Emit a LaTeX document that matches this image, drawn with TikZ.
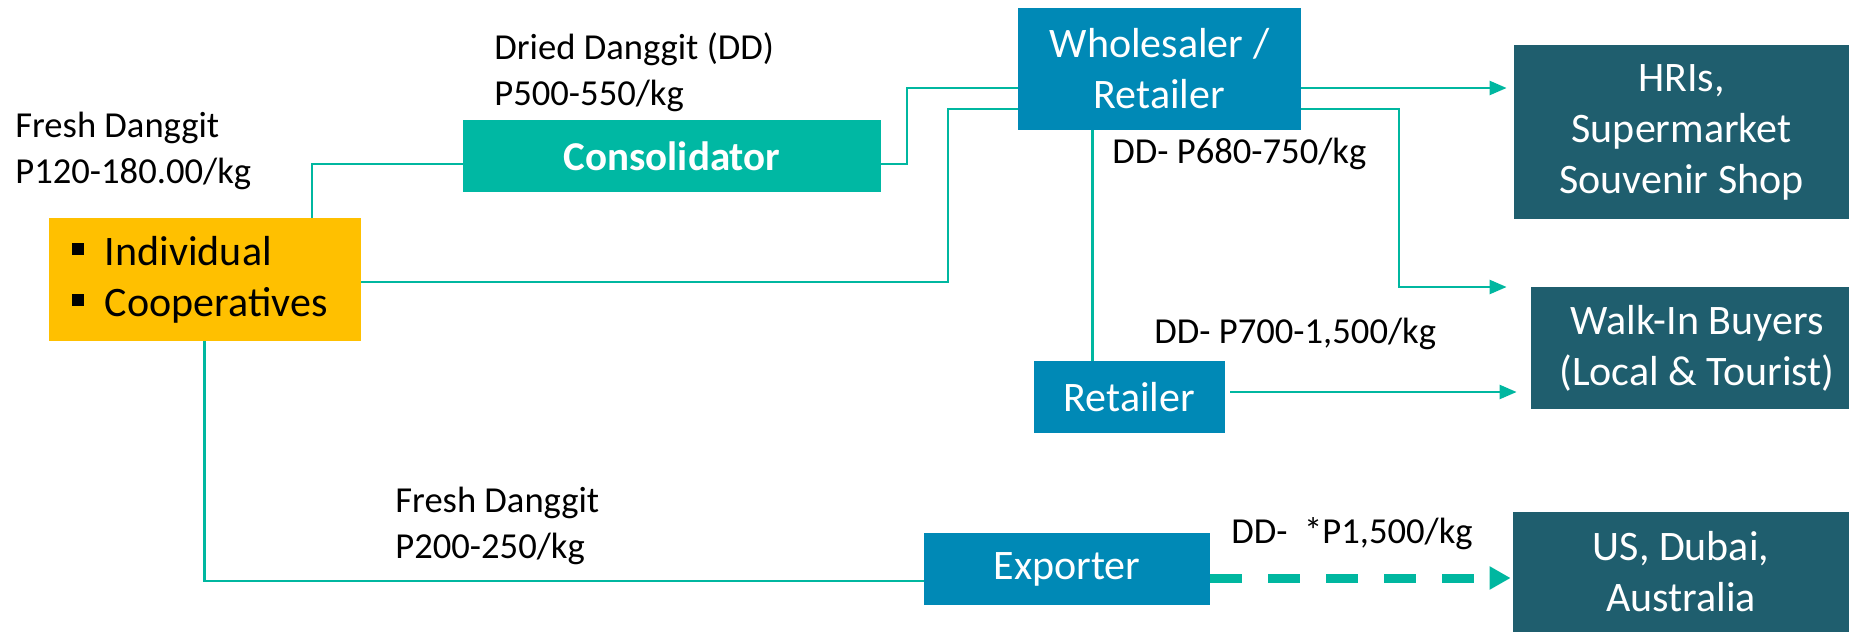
\documentclass[tikz,border=0pt]{standalone}
\usepackage{fontspec}
\setmainfont{Carlito}
\usetikzlibrary{arrows.meta}
\definecolor{linkc}{RGB}{0,183,160}
\definecolor{consc}{RGB}{0,184,163}
\definecolor{bluec}{RGB}{0,137,182}
\definecolor{darkc}{RGB}{31,94,110}
\definecolor{amberc}{RGB}{255,192,0}
\begin{document}
\begin{tikzpicture}[x=0.5pt,y=-0.5pt,
  box/.style={draw=none,inner sep=0pt,align=center,text=white,font=\fontsize{21}{25.5}\selectfont},
  lbl/.style={inner sep=0pt,anchor=base west,align=left,font=\fontsize{18.3}{23}\selectfont},
  link/.style={draw=linkc,line width=1.2pt},
  arr/.style={link,-{Triangle[length=8.5pt,width=7pt]}},
  dasharr/.style={draw=linkc,line width=4.5pt,dash pattern=on 16pt off 13pt,-{Triangle[length=10.5pt,width=11pt]}},
]
\useasboundingbox (0,0) rectangle (1849,632);
% boxes
\node[box,fill=amberc,text=black,minimum height=61.5pt,align=left,text width=133pt,inner xsep=11.5pt] (ind) at (205,279.5)
  {\raisebox{5pt}{\rule{6pt}{6pt}}\hspace{10.5pt}Individual\\\raisebox{5pt}{\rule{6pt}{6pt}}\hspace{10.5pt}Cooperatives};
\node[box,fill=consc,minimum width=209pt,minimum height=36pt,font=\bfseries\fontsize{20.5}{24}\selectfont] (cons) at (672,156) {Consolidator};
\node[box,fill=bluec,minimum width=141.5pt,minimum height=61pt] (whole) at (1159.5,69) {Wholesaler /\\Retailer};
\node[box,fill=darkc,minimum width=167.5pt,minimum height=87pt] (hri) at (1681.5,132) {HRIs,\\Supermarket\\Souvenir Shop};
\node[box,fill=darkc,minimum width=166pt,minimum height=61pt] (walk) at (1697,348) {Walk-In Buyers\\(Local \& Tourist)};
\node[box,fill=darkc,minimum width=168pt,minimum height=60pt] (us) at (1681,572) {US, Dubai,\\Australia};
\node[box,fill=bluec,minimum width=95.5pt,minimum height=36pt] (ret) at (1129.5,397) {Retailer};
\node[box,fill=bluec,minimum width=143pt,minimum height=36pt] (exp) at (1067,569) {Exporter};
% labels (base anchor = last line's baseline)
\node[lbl] (fd1) at (15,183) {Fresh Danggit\\P120-180.00/kg};
\node[lbl] (dd) at (494,105) {Dried Danggit (DD)\\P500-550/kg};
\node[lbl] (fd2) at (395,558) {Fresh Danggit\\P200-250/kg};
\node[lbl] (p680) at (1112,163) {DD- P680-750/kg};
\node[lbl] (p700) at (1154,343) {DD- P700-1,500/kg};
\node[lbl] (p1500) at (1231,543) {DD-\ \ *P1,500/kg};
% routing coordinates
\coordinate (c1) at (312,164);
\coordinate (c2) at (907,88);
\coordinate (c3) at (948,109);
\coordinate (c3a) at (948,282);
\coordinate (c5) at (1399,287);
\coordinate (c6) at (1092.5,0);
\coordinate (c7) at (1230,392);
\coordinate (c8) at (204.6,581);
\coordinate (c9) at (0,578);
% connectors
\draw[link] (ind.north -| c1) |- (cons.west |- c1);
\draw[link] (cons.east |- c1) -| (c2) -- (whole.west |- c2);
\draw[link] (ind.east |- c3a) -| (c3) -- (whole.west |- c3);
\draw[arr,shorten >=3.5pt] (whole.east |- c2) -- (hri.west |- c2);
\draw[arr,shorten >=12pt] (whole.east |- c3) -| (c5) -- (walk.west |- c5);
\draw[link] (whole.south -| c6) -- (ret.north -| c6);
\draw[arr,shorten <=2.5pt,shorten >=7pt] (ret.east |- c7) -- (walk.west |- c7);
\draw[link] (ind.south -| c8) |- (exp.west |- c8);
\draw[dasharr,shorten >=1pt] (exp.east |- c9) -- (us.west |- c9);
\end{tikzpicture}
\end{document}
